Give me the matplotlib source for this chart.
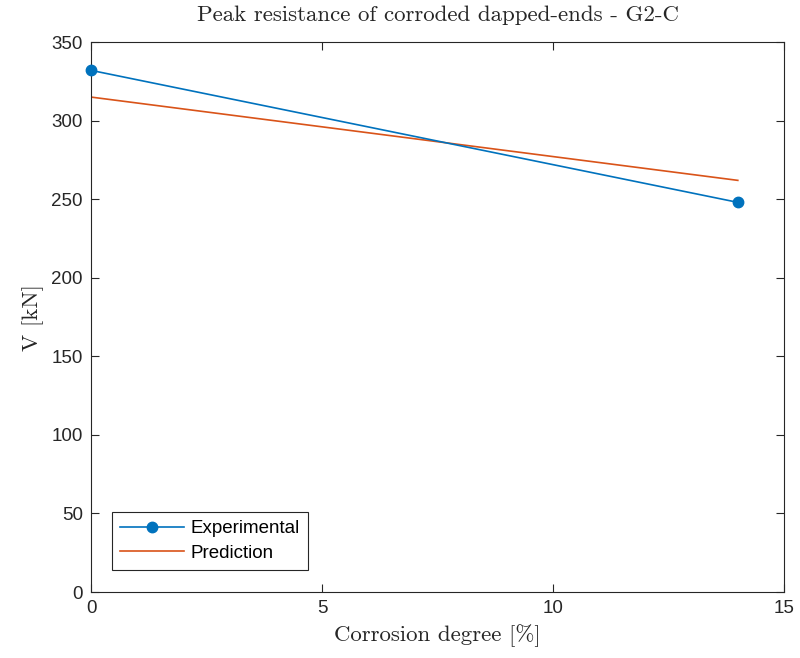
import matplotlib
matplotlib.use('Agg')
import matplotlib.pyplot as plt

# corrosion degree [%] and peak shear resistance [kN]
corrosion = [0, 14]
v_exp = [332, 248]
v_pred = [315, 262]

blue = '#0072BD'
orange = '#D95319'

plt.rcParams['font.family'] = ['Liberation Sans', 'DejaVu Sans']

fig = plt.figure(figsize=(8, 6.58), dpi=100)
ax = fig.add_axes([0.114, 0.1003, 0.866, 0.8357])

ax.plot(corrosion, v_exp, '-o', color=blue, lw=1.2, ms=7.5, clip_on=False,
        zorder=3, label='Experimental')
ax.plot(corrosion, v_pred, '-', color=orange, lw=1.2, label='Prediction')

ax.set_xlim(0, 15)
ax.set_ylim(0, 350)
ax.set_xticks([0, 5, 10, 15])
ax.set_yticks(range(0, 351, 50))
ax.tick_params(direction='in', length=6, width=0.8, top=True, right=True,
               labelsize=13.5, colors='#262626', pad=6)
for s in ax.spines.values():
    s.set_color('#262626')
    s.set_linewidth(0.8)

ax.set_title('Peak resistance of corroded dapped-ends - G2-C',
             fontfamily='cmr10', fontsize=16.5, color='#262626', pad=15)
ax.set_xlabel('Corrosion degree [%]', fontfamily='cmr10', fontsize=16.5,
              color='#262626', labelpad=5)
ax.set_ylabel('V [kN]', fontfamily='cmr10', fontsize=16.5, color='#262626',
              labelpad=5)

leg = ax.legend(loc='lower left', bbox_to_anchor=(0.03, 0.04), fontsize=13.5,
                fancybox=False, edgecolor='#262626', framealpha=1,
                handlelength=3.4, handletextpad=0.35, borderpad=0.45,
                labelspacing=0.38, borderaxespad=0)
leg.get_frame().set_linewidth(0.8)

fig.savefig('out.png', dpi=100)
